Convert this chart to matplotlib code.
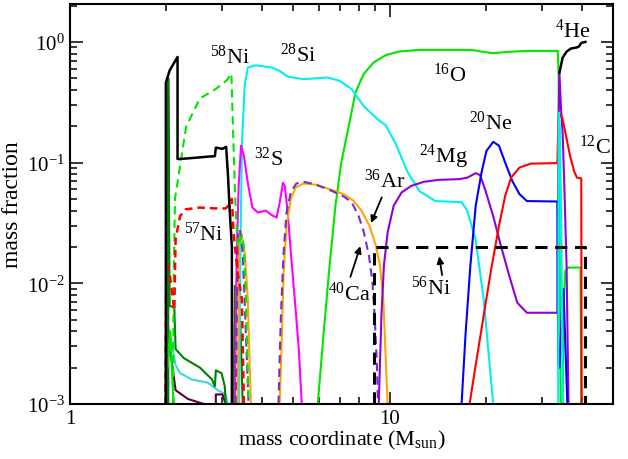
import math
import matplotlib
matplotlib.use("Agg")
import matplotlib.pyplot as plt
from matplotlib.ticker import LogLocator, FixedLocator, NullFormatter, FuncFormatter

plt.rcParams['font.family'] = ['Liberation Serif', 'DejaVu Serif']
plt.rcParams['mathtext.fontset'] = 'custom'
plt.rcParams['mathtext.rm'] = 'Liberation Serif'
plt.rcParams['mathtext.it'] = 'Liberation Serif:italic'
plt.rcParams['mathtext.bf'] = 'Liberation Serif:bold'

# ---------------- data ----------------
# 28Si (cyan)
si28_x = [3.38, 3.42, 3.45, 3.52, 3.60, 3.81, 4.28, 4.53, 4.80, 5.38, 6.40, 6.98, 7.61, 8.29, 9.17, 9.72,
          10.4, 11.4, 12.4, 13.9, 16.8, 17.5, 18.6, 19.7, 21.1]
si28_y = [0.001, 0.0264, 0.138, 0.432, 0.613, 0.64, 0.613, 0.575, 0.516, 0.491, 0.507, 0.476, 0.406, 0.295, 0.229, 0.204,
          0.147, 0.083, 0.058, 0.048, 0.047, 0.040, 0.023, 0.0074, 0.001]
si28b_x = [33.7, 33.8, 34.1, 34.5, 34.8]
si28b_y = [0.001, 0.26, 0.2, 0.026, 0.001]

# 32S (magenta)
s32_x = [3.28, 3.32, 3.37, 3.43, 3.50, 3.60, 3.72, 3.87, 4.10, 4.28, 4.43, 4.53, 4.64, 4.70, 4.80, 4.91, 5.05, 5.20, 5.31]
s32_y = [0.001, 0.014, 0.064, 0.138, 0.114, 0.068, 0.0425, 0.0386, 0.040, 0.0367, 0.035, 0.0467, 0.068, 0.064, 0.0386,
         0.018, 0.0074, 0.00285, 0.001]

# 36Ar (orange, solid)
ar36_x = [4.53, 4.59, 4.66, 4.76, 4.91, 5.08, 5.38, 5.86, 6.59, 7.18, 7.72, 8.17, 8.65, 9.06, 9.33, 9.56, 9.70, 9.86]
ar36_y = [0.001, 0.00285, 0.0123, 0.030, 0.0498, 0.0622, 0.0671, 0.0657, 0.0595, 0.0548, 0.0482, 0.0399, 0.030, 0.0205,
          0.014, 0.0074, 0.00285, 0.001]
ar36b_x = [3.35, 3.38, 3.43, 3.52, 3.60, 3.68]
ar36b_y = [0.001, 0.0233, 0.0264, 0.018, 0.0074, 0.001]

# 40Ca (purple, dashed)
ca40_x = [4.49, 4.57, 4.66, 4.76, 4.91, 5.11, 5.38, 5.86, 6.59, 7.18, 7.61, 8.0, 8.31, 8.62, 8.84, 8.98, 9.13, 9.2]
ca40_y = [0.001, 0.0054, 0.018, 0.0386, 0.0573, 0.0671, 0.0693, 0.066, 0.0583, 0.0524, 0.0469, 0.0362, 0.0264, 0.0169,
          0.0102, 0.0054, 0.0021, 0.001]
ca40b_x = [3.30, 3.35, 3.40, 3.47, 3.55, 3.62]
ca40b_y = [0.001, 0.026, 0.028, 0.018, 0.0039, 0.001]

# 24Mg (purple, solid)
mg24_x = [9.25, 9.43, 9.60, 9.86, 10.3, 10.9, 11.7, 12.8, 14.3, 16.5, 17.5, 18.6, 19.2, 19.9, 21.1, 22.3, 23.7, 25.1,
          26.9, 33.5, 33.8, 34.0, 34.4, 34.8, 35.2, 35.8, 36.3]
mg24_y = [0.001, 0.0054, 0.014, 0.0264, 0.0439, 0.0565, 0.0642, 0.0693, 0.072, 0.0729, 0.075, 0.0818, 0.0787, 0.060,
          0.036, 0.0205, 0.0115, 0.0069, 0.0057, 0.0057, 0.244, 0.55, 0.277, 0.177, 0.069, 0.014, 0.001]

# 20Ne (blue)
ne20_x = [16.8, 17.3, 17.9, 18.6, 19.4, 20.1, 21.1, 22.0, 23.0, 24.2, 25.5, 26.9, 33.5, 33.7, 34.0, 34.6, 35.0, 35.5, 36.0]
ne20_y = [0.001, 0.0039, 0.014, 0.0439, 0.083, 0.125, 0.1486, 0.138, 0.1, 0.0706, 0.0548, 0.048, 0.0476, 0.0021, 0.002,
          0.006, 0.009, 0.003, 0.001]

# 12C (red)
c12_x = [17.8, 18.6, 19.7, 20.8, 22.0, 23.0, 24.0, 25.5, 27.7, 33.5, 33.8, 34.7, 35.5, 36.7, 37.9, 38.6, 39.8, 39.9]
c12_y = [0.001, 0.0021, 0.0054, 0.0131, 0.030, 0.053, 0.075, 0.091, 0.098, 0.099, 0.26, 0.236, 0.177, 0.114, 0.083,
         0.075, 0.074, 0.001]

# 16O (green)
o16_x = [5.96, 6.22, 6.49, 6.77, 7.06, 7.38, 7.82, 8.29, 8.91, 9.72, 10.7, 12.4, 18.0, 19.7, 21.1, 23.4, 26.9, 33.6,
         33.8, 34.1, 34.3]
o16_y = [0.001, 0.0039, 0.014, 0.0439, 0.1, 0.177, 0.38, 0.54, 0.675, 0.776, 0.832, 0.859, 0.859, 0.826, 0.806, 0.826,
         0.842, 0.842, 0.557, 0.014, 0.001]
o16b_x = [34.8, 35.1, 35.5, 36.3, 39.6, 39.8]
o16b_y = [0.001, 0.0074, 0.0127, 0.0135, 0.0135, 0.001]

# 4He (black)
he4_x = [1.995, 1.995, 2.05, 2.08, 2.17, 2.17, 2.3, 2.5, 2.7, 2.84, 2.86, 3.0, 3.08, 3.12, 3.16, 3.21, 3.21]
he4_y = [0.001, 0.46, 0.58, 0.62, 0.75, 0.107, 0.108, 0.11, 0.112, 0.113, 0.133, 0.13, 0.135, 0.08, 0.04, 0.02, 0.001]
he4b_x = [34.0, 34.8, 35.8, 36.9, 38.6, 39.2, 39.8, 41.0]
he4b_y = [0.557, 0.74, 0.83, 0.88, 0.90, 0.92, 0.98, 1.0]

# 56Ni (black dashed)
ni56_x = [8.91, 8.91, 41.0, 41.0]
ni56_y = [0.001, 0.02, 0.02, 0.001]

# 58Ni (green dashed)
ni58_x = [2.10, 2.11, 2.13, 2.31, 2.55, 2.87, 3.09, 3.20, 3.22, 3.26, 3.30, 3.35, 3.45, 3.50, 3.55, 3.62]
ni58_y = [0.001, 0.01, 0.05, 0.2, 0.34, 0.41, 0.48, 0.545, 0.3, 0.1, 0.04, 0.02, 0.025, 0.02, 0.008, 0.001]

# 57Ni (red dashed)
ni57_x = [1.99, 2.0, 2.05, 2.12, 2.14, 2.21, 2.30, 2.55, 2.86, 3.07, 3.16, 3.21, 3.25, 3.35, 3.45, 3.50]
ni57_y = [0.001, 0.016, 0.012, 0.006, 0.0233, 0.036, 0.041, 0.0424, 0.0417, 0.0417, 0.045, 0.05, 0.026, 0.012,
          0.0074, 0.001]

# minor species (dark green, turquoise, maroon, light green)
dg1_x = [1.99, 1.99]
dg1_y = [0.001, 0.45]
dg2_x = [2.03, 2.03, 2.05, 2.12, 2.14, 2.27, 2.55, 2.78, 2.84, 2.86, 2.98, 3.05, 3.07]
dg2_y = [0.001, 0.5, 0.0065, 0.0063, 0.00285, 0.0024, 0.002, 0.0016, 0.0014, 0.0019, 0.0018, 0.0014, 0.001]
dg3_x = [3.25, 3.28, 3.35, 3.42, 3.47]
dg3_y = [0.001, 0.0095, 0.009, 0.0039, 0.001]
tq_x = [2.0, 2.05, 2.14, 2.21, 2.4, 2.7, 2.9, 3.07, 3.12]
tq_y = [0.0048, 0.0039, 0.0021, 0.0018, 0.0016, 0.0015, 0.0013, 0.0012, 0.001]
mr_x = [2.0, 2.07, 2.14, 2.34, 2.62]
mr_y = [0.0036, 0.0025, 0.0013, 0.0011, 0.001]
mr2_x = [2.86, 2.86, 3.0, 3.07]
mr2_y = [0.001, 0.0012, 0.0012, 0.001]
lg_x = [1.99, 2.0, 2.02, 2.06, 2.1, 2.12]
lg_y = [0.001, 0.01, 0.002, 0.004, 0.0012, 0.001]

# labels
lab_text = ['$^{58}$Ni', '$^{28}$Si', '$^{16}$O', '$^{32}$S', '$^{57}$Ni', '$^{36}$Ar', '$^{40}$Ca',
            '$^{56}$Ni', '$^{24}$Mg', '$^{20}$Ne', '$^{4}$He', '$^{12}$C']
lab_x = [3.16, 5.16, 15.4, 4.18, 2.62, 9.63, 7.5, 13.5, 14.7, 20.7, 37.4, 44.0]
lab_y = [0.765, 0.79, 0.54, 0.108, 0.026, 0.0716, 0.0082, 0.0093, 0.114, 0.217, 1.25, 0.138]

# arrows (tail -> head)
arr_tail_x = [9.45, 7.54, 14.6]
arr_tail_y = [0.0515, 0.0113, 0.0117]
arr_head_x = [8.75, 8.1, 14.3]
arr_head_y = [0.0316, 0.0203, 0.0167]

# ---------------- plot ----------------
fig = plt.figure(figsize=(6.28, 4.60), dpi=100)
ax = fig.add_axes([0.1115, 0.1196, 0.8645, 0.8695])

LIME = '#00e600'
CYAN = '#00f0f0'
PURP = '#9000d8'
PURD = '#7030d0'
ORNG = '#ffa500'
MAG = '#ff00ff'
DGRN = '#008000'
TURQ = '#40d8d0'
MARO = '#5a0040'

lw = 1.5
ax.plot(tq_x, tq_y, color=TURQ, lw=lw)
ax.plot(mr_x, mr_y, color=MARO, lw=lw)
ax.plot(mr2_x, mr2_y, color=MARO, lw=lw)
ax.plot(dg2_x, dg2_y, color=DGRN, lw=lw)
ax.plot(dg3_x, dg3_y, color=DGRN, lw=lw)
ax.plot(lg_x, lg_y, color=LIME, lw=lw)
ax.plot(o16_x, o16_y, color=LIME, lw=lw)
ax.plot(o16b_x, o16b_y, color=LIME, lw=lw)
ax.plot(si28_x, si28_y, color=CYAN, lw=lw)
ax.plot(s32_x, s32_y, color=MAG, lw=lw)
ax.plot(ar36b_x, ar36b_y, color=ORNG, lw=lw)
ax.plot(ar36_x, ar36_y, color=ORNG, lw=lw)
ax.plot(ca40b_x, ca40b_y, color=PURD, lw=lw, ls=(0, (4, 2.5)))
ax.plot(ca40_x, ca40_y, color=PURD, lw=lw, ls=(0, (4, 2.5)))
ax.plot(mg24_x, mg24_y, color=PURP, lw=lw)
ax.plot(ne20_x, ne20_y, color='#0000ff', lw=lw)
ax.plot(c12_x, c12_y, color='#ff0000', lw=lw)
ax.plot(si28b_x, si28b_y, color=CYAN, lw=lw)
ax.plot(ni58_x, ni58_y, color=LIME, lw=lw, ls=(0, (4, 2.5)))
ax.plot(ni57_x, ni57_y, color='#ff0000', lw=1.8, ls=(0, (3, 2)))
ax.plot(dg1_x, dg1_y, color=DGRN, lw=2)
ax.plot(he4_x, he4_y, color='k', lw=1.8)
ax.plot(he4b_x, he4b_y, color='k', lw=1.8)
ax.plot(ni56_x, ni56_y, color='k', lw=2.2, ls=(0, (4, 2.5)))

for t, x, y in zip(lab_text, lab_x, lab_y):
    ax.text(x, y, t, fontsize=16, ha='center', va='center')

for tx, ty, hx, hy in zip(arr_tail_x, arr_tail_y, arr_head_x, arr_head_y):
    ax.annotate('', xy=(hx, hy), xytext=(tx, ty),
                arrowprops=dict(arrowstyle='-|>', color='k', lw=1.3, mutation_scale=10,
                                shrinkA=0, shrinkB=0))

ax.set_xscale('log')
ax.set_yscale('log')
ax.set_xlim(1, 50)
ax.set_ylim(1e-3, 2.06)

ax.xaxis.set_major_locator(FixedLocator([1, 10]))
ax.xaxis.set_minor_locator(FixedLocator([2, 3, 4, 5, 6, 7, 8, 9, 20, 30, 40]))
ax.xaxis.set_major_formatter(FuncFormatter(lambda v, p: '%d' % round(v)))
ax.xaxis.set_minor_formatter(NullFormatter())
ax.yaxis.set_major_locator(FixedLocator([1e-3, 1e-2, 1e-1, 1]))
ax.yaxis.set_minor_locator(LogLocator(base=10, subs=range(2, 10)))
ax.yaxis.set_minor_formatter(NullFormatter())
ax.yaxis.set_major_formatter(FuncFormatter(
    lambda v, p: r'$\mathregular{10^{%d}}$' % round(math.log10(v))))

ax.tick_params(which='both', direction='in', top=True, right=True, labelsize=15, width=1.1)
ax.tick_params(which='major', length=9)
ax.tick_params(which='minor', length=5)
for s in ax.spines.values():
    s.set_linewidth(1.5)

ax.set_xlabel(r'mass coordinate (M$_{\mathregular{sun}}$)', fontsize=16, labelpad=0)
ax.set_ylabel('mass fraction', fontsize=17, labelpad=3)

fig.savefig('out.png', dpi=100)
